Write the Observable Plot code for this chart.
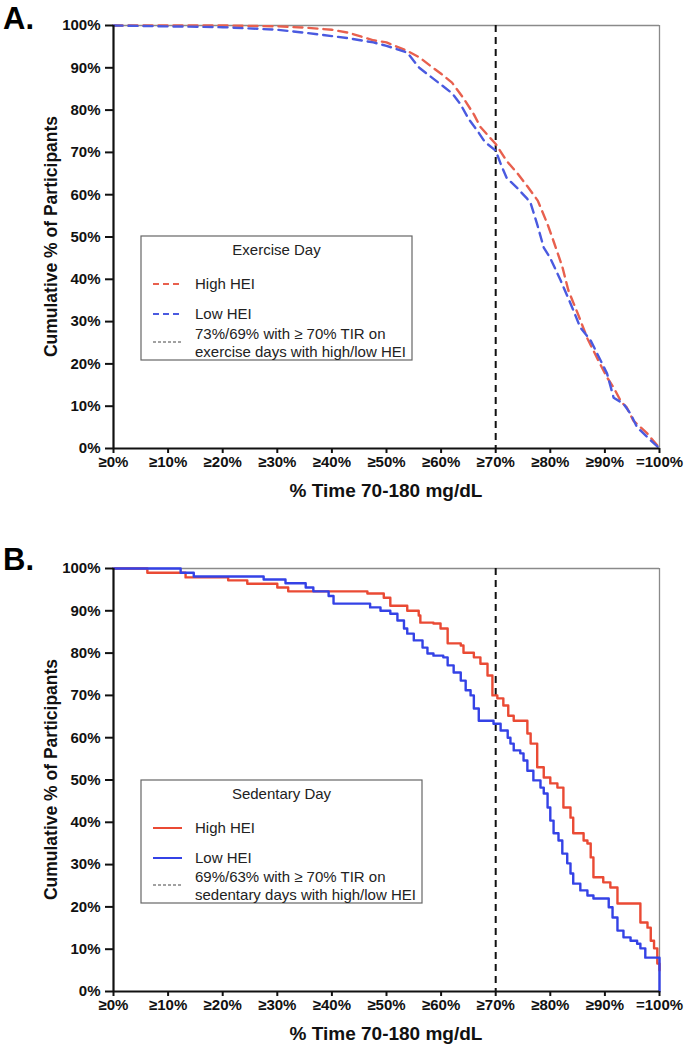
<!DOCTYPE html>
<html>
<head>
<meta charset="utf-8">
<script src="https://cdn.jsdelivr.net/npm/d3@7"></script>
<script src="https://cdn.jsdelivr.net/npm/@observablehq/plot@0.6"></script>
<style>
  body { margin: 0; background: #fff; }
  #chart { width: 688px; }
  #chart svg { display: block; }
  g[aria-label$="tick label"] text { font-weight: bold; }
</style>
</head>
<body>
<div id="chart"></div>
<script>
// ---- tick labels ----
const xTicks = [0, 10, 20, 30, 40, 50, 60, 70, 80, 90, 100];
const xTickLabels = ["≥0%", "≥10%", "≥20%", "≥30%", "≥40%", "≥50%", "≥60%", "≥70%", "≥80%", "≥90%", "=100%"];
const yTicks = [0, 10, 20, 30, 40, 50, 60, 70, 80, 90, 100];
const yTickLabels = ["0%", "10%", "20%", "30%", "40%", "50%", "60%", "70%", "80%", "90%", "100%"];
const thresholdX = 70;

// ---- Panel A: exercise day  [% time in range, cumulative % participants] ----
const exerciseHigh = [
  [0,100],[10,100],[20,100],[30,99.8],[35,99.5],[40,99],[43,98.3],[47.6,96.5],[50,96],[53.8,94],
  [56,92.5],[58,90.5],[60,88.6],[62,86.5],[64,83],[66,79],[67.2,76],[70,72],[72,68],[74,65],
  [75.8,62],[77.7,58.6],[79.5,53],[80.6,49],[82.2,43],[83.3,37.4],[85,32],[86.8,26],[88.8,20.8],
  [90.4,16.8],[91.6,14.4],[93,11],[94,9.7],[95.2,6.6],[97.8,3.5],[99.6,0.7],[100,0]
];
const exerciseLow = [
  [0,100],[10,99.8],[20,99.6],[30,99],[35,98.3],[40,97.5],[43,97],[47.6,96],[50,95.2],[53.8,93.6],
  [56,90],[58,88],[60,86],[62,84],[63.5,81.5],[65,78],[66.7,75],[68,72.5],[70,70.4],[71,67],
  [72,64],[74,61.5],[75.8,59],[76.4,58],[77.6,53],[78.8,47.5],[80,45],[81.9,39.7],[83.7,34.3],
  [85.5,28.6],[87.4,25.5],[88.6,22.4],[90.4,17.7],[91.6,12],[93.4,10.6],[94.7,8.2],[95.9,5],
  [98.4,1.9],[100,0]
];

// ---- Panel B: sedentary day (step curves) ----
const sedentaryHigh = [
  [0,100],[6.2,99],[13.2,97.9],[21,97.2],[24.5,96.4],[30,95.5],[32,94.6],[46.5,94.1],[49.5,93.1],
  [50.7,91.2],[53.8,90],[55.9,88.9],[56.2,87.2],[58.6,87],[59.9,85.8],[61.2,82.3],[63.6,81.8],
  [64.1,80.1],[66,79],[67.2,77.5],[68.5,74.7],[69.4,70],[70.3,69.3],[71.4,67.6],[72.3,65.2],
  [73.3,64],[75.8,61],[76.4,58.6],[77.6,53],[78.8,50.6],[80,49.2],[81.3,48.2],[82.4,43.5],
  [83.7,41.1],[84.2,37.4],[86.1,35.7],[86.8,35],[87.4,31.7],[87.9,27],[89.7,25.8],[91,24.6],
  [92.3,20.8],[96.5,16.3],[97.8,15.1],[98.4,12],[99,10.2],[99.6,6.6],[100,5]
];
const sedentaryLow = [
  [0,100],[12.3,99],[14.7,98.1],[27.5,97.4],[31.5,96.5],[35.2,95.5],[36.6,94.6],[39.4,93.5],
  [40.3,91.7],[47,90.8],[48.9,90],[50.7,89.3],[52,87.7],[53.2,85.8],[53.8,84.6],[55,83],
  [56.6,81.3],[57.5,79.9],[58.6,79.4],[60.4,79],[61.2,77.1],[62.3,75.4],[63.6,73.5],[64.5,71.2],
  [65.4,70],[66,66.9],[66.9,64],[69.6,63.3],[70.9,61.7],[72.2,60],[72.7,58.6],[73.3,57],
  [74.5,56.3],[75.1,54.6],[75.8,52.2],[76.9,49.9],[78.2,48.2],[78.8,46.8],[79.5,43.5],[80,40.4],
  [80.6,37.4],[81.5,35.7],[82.2,32.6],[83.1,30.3],[83.7,27.9],[84.2,25.5],[85.5,23.9],[86.8,22.7],
  [87.9,22],[90.7,19.9],[91.4,17.5],[92.3,14.4],[93.4,12.8],[94.7,12],[95.9,11.3],[96.5,10.2],
  [97.4,8],[100,0]
];

const RED_A = "#e8604e", BLUE_A = "#4a5ae0";
const RED_B = "#ea4a34", BLUE_B = "#3442e6";
const FONT = "'Liberation Sans', Arial, Helvetica, sans-serif";

function panel(opts) {
  const {high, low, curve, dash, redC, blueC, height, marginTop, marginBottom} = opts;
  const lineOpts = {x: d => d[0], y: d => d[1], curve, strokeWidth: 2.4};
  if (dash) lineOpts.strokeDasharray = dash;
  return Plot.plot({
    width: 688, height, marginLeft: 113, marginRight: 29, marginTop, marginBottom,
    style: {fontFamily: FONT, color: "#111", background: "#fff", overflow: "visible"},
    x: {domain: [0, 100]},
    y: {domain: [0, 100]},
    marks: [
      Plot.ruleX([100], {stroke: "#8a8a8a", strokeWidth: 1.3}),
      Plot.ruleY([100], {stroke: "#8a8a8a", strokeWidth: 1.3}),
      Plot.ruleX([thresholdX], {stroke: "#111", strokeWidth: 2, strokeDasharray: "7,5"}),
      Plot.line(high, {...lineOpts, stroke: redC}),
      Plot.line(low, {...lineOpts, stroke: blueC}),
      Plot.axisX({ticks: xTicks, tickFormat: d => xTickLabels[xTicks.indexOf(d)], tickSize: 5,
        tickPadding: 3, fontSize: 15, fontWeight: "bold", strokeWidth: 2, label: null}),
      Plot.axisY({ticks: yTicks, tickFormat: d => yTickLabels[yTicks.indexOf(d)], tickSize: 8,
        tickPadding: 5, fontSize: 15, fontWeight: "bold", strokeWidth: 2, label: null}),
      Plot.ruleX([0], {stroke: "#111", strokeWidth: 2.2}),
      Plot.ruleY([0], {stroke: "#111", strokeWidth: 2.2})
    ]
  });
}

function decorate(svg, cfg) {
  const s = d3.select(svg);
  const top = cfg.marginTop, bottom = cfg.height - cfg.marginBottom;
  s.append("text").attr("x", 3).attr("y", cfg.letterY).attr("font-size", 31).attr("font-weight", "bold")
    .attr("text-anchor", "start").attr("fill", "#000").style("font-family", FONT).text(cfg.letter);
  s.append("text").attr("transform", `translate(57,${(top + bottom) / 2}) rotate(-90)`)
    .attr("text-anchor", "middle").attr("font-size", 17.5).attr("font-weight", "bold").attr("fill", "#111")
    .style("font-family", FONT).text("Cumulative % of Participants");
  s.append("text").attr("x", 386).attr("y", cfg.xTitleY).attr("text-anchor", "middle")
    .attr("font-size", 19).attr("font-weight", "bold").attr("fill", "#111").style("font-family", FONT)
    .text("% Time 70-180 mg/dL");
  const L = cfg.legend;
  const g = s.append("g").style("font-family", FONT).attr("fill", "#222").attr("font-size", 15)
    .attr("text-anchor", "start");
  g.append("rect").attr("x", L.x).attr("y", L.y).attr("width", L.w).attr("height", L.h)
    .attr("fill", "#fff").attr("stroke", "#666").attr("stroke-width", 1.2);
  g.append("text").attr("x", L.x + L.w / 2).attr("y", L.y + 19).attr("text-anchor", "middle").text(L.title);
  const items = [
    {dy: 48, color: cfg.redC, label: "High HEI"},
    {dy: 78, color: cfg.blueC, label: "Low HEI"}
  ];
  items.forEach(it => {
    g.append("line").attr("x1", L.x + 12).attr("x2", L.x + 41).attr("y1", L.y + it.dy).attr("y2", L.y + it.dy)
      .attr("stroke", it.color).attr("stroke-width", 2).attr("stroke-dasharray", cfg.legendDash || null);
    g.append("text").attr("x", L.x + 54).attr("y", L.y + it.dy + 5).attr("text-anchor", "start").text(it.label);
  });
  g.append("line").attr("x1", L.x + 12).attr("x2", L.x + 41).attr("y1", L.y + L.dashY).attr("y2", L.y + L.dashY)
    .attr("stroke", "#444").attr("stroke-width", 1).attr("stroke-dasharray", "3,2");
  g.append("text").attr("x", L.x + 54).attr("y", L.y + L.line1Y).attr("text-anchor", "start").text(L.line1);
  g.append("text").attr("x", L.x + 54).attr("y", L.y + L.line1Y + 18).attr("text-anchor", "start").text(L.line2);
}

const chart = document.getElementById("chart");

const cfgA = {high: exerciseHigh, low: exerciseLow, curve: "linear", dash: "9,6", redC: RED_A, blueC: BLUE_A,
  height: 500, marginTop: 25, marginBottom: 52, letter: "A.", letterY: 29, xTitleY: 497, legendDash: "6,4",
  legend: {x: 141, y: 236, w: 271, h: 124, title: "Exercise Day", dashY: 106, line1Y: 103,
    line1: "73%/69% with ≥ 70% TIR on", line2: "exercise days with high/low HEI"}};
const svgA = panel(cfgA);
decorate(svgA, cfgA);
chart.appendChild(svgA);

const cfgB = {high: sedentaryHigh, low: sedentaryLow, curve: "step-after", dash: null, redC: RED_B, blueC: BLUE_B,
  height: 552, marginTop: 68, marginBottom: 61, letter: "B.", letterY: 70, xTitleY: 540, legendDash: null,
  legend: {x: 141, y: 280, w: 281, h: 123, title: "Sedentary Day", dashY: 105, line1Y: 102,
    line1: "69%/63% with ≥ 70% TIR on", line2: "sedentary days with high/low HEI"}};
const svgB = panel(cfgB);
decorate(svgB, cfgB);
chart.appendChild(svgB);
</script>
</body>
</html>
